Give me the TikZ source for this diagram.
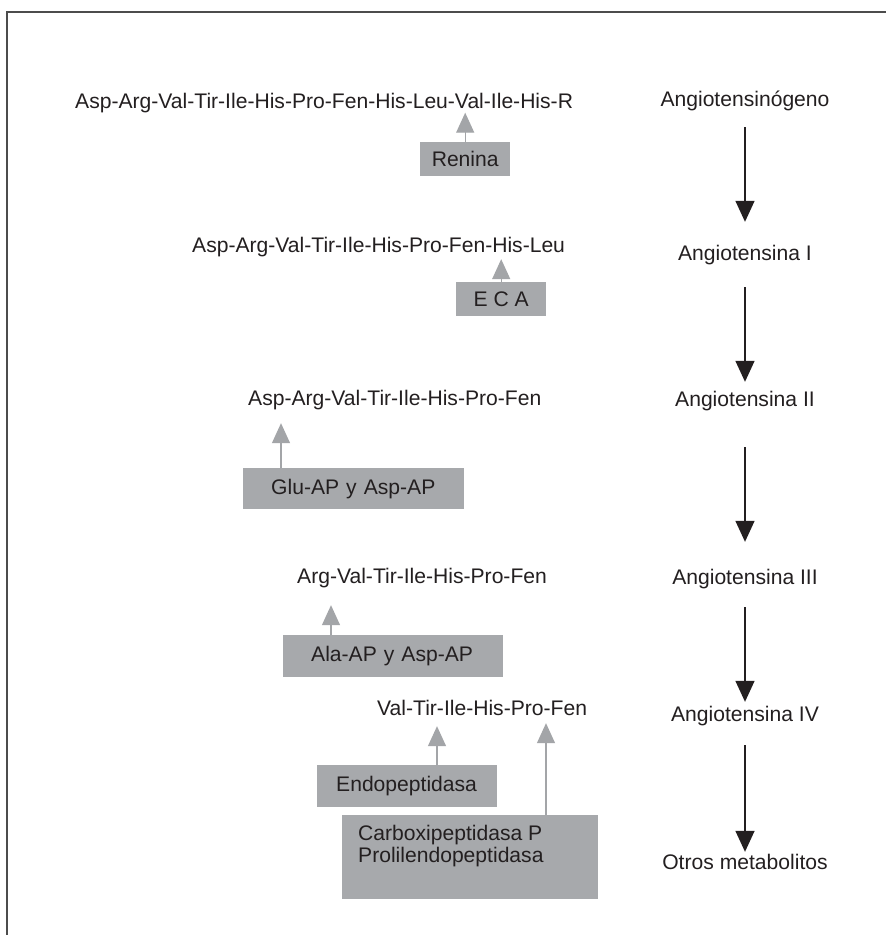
\documentclass[tikz,border=0pt]{standalone}
\usepackage{fontspec}
\setmainfont{Liberation Sans}
\usetikzlibrary{arrows.meta}
\definecolor{boxgray}{HTML}{A7A9AC}
\definecolor{arrgray}{HTML}{A3A5A8}
\definecolor{ink}{HTML}{231F20}
\begin{document}
\begin{tikzpicture}[x=1pt,y=-1pt,
  every node/.style={font=\fontsize{21.1}{22}\selectfont, text=ink, inner sep=0pt},
  seq/.style={anchor=base west, text height=15.5pt, text depth=4.5pt},
  stage/.style={anchor=base, text height=15.5pt, text depth=4.5pt},
  enz/.style={fill=boxgray, anchor=north west},
  garr/.style={draw=arrgray, line width=1.3pt, -{Triangle[length=20pt,width=18pt]}},
  barr/.style={draw=ink, line width=1.5pt, -{Triangle[length=21pt,width=19pt]}},
  frame/.style={draw=black!70, line width=1.8pt}]
\useasboundingbox (0,0) rectangle (886,935);
\fill[white] (0,0) rectangle (886,935);
\draw[frame] (7,935) -- (7,12) -- (886,12);

% sequences
\node[seq] (s1) at (75,108) {Asp-Arg-Val-Tir-Ile-His-Pro-Fen-His-Leu-Val-Ile-His-R};
\node[seq] (s2) at (192,252) {Asp-Arg-Val-Tir-Ile-His-Pro-Fen-His-Leu};
\node[seq] (s3) at (248,405) {Asp-Arg-Val-Tir-Ile-His-Pro-Fen};
\node[seq] (s4) at (297,583) {Arg-Val-Tir-Ile-His-Pro-Fen};
\node[seq] (s5) at (377,715) {Val-Tir-Ile-His-Pro-Fen};

% stages
\node[stage] (a0) at (745,106) {Angiotensinógeno};
\node[stage] (a1) at (745,260) {Angiotensina I};
\node[stage] (a2) at (745,406) {Angiotensina II};
\node[stage] (a3) at (745,584) {Angiotensina III};
\node[stage] (a4) at (745,721) {Angiotensina IV};
\node[stage] (a5) at (745,869) {Otros metabolitos};

% enzymes
\node[enz, minimum width=90pt, minimum height=34pt] (renina) at (420,142) {Renina};
\node[enz, minimum width=90pt, minimum height=34pt] (eca) at (456,282) {E C A};
\node[enz, text width=165pt, align=left, inner xsep=28pt, minimum height=41pt] (glu) at (243,468) {Glu-AP y Asp-AP};
\node[enz, text width=164pt, align=left, inner xsep=28pt, minimum height=42pt] (ala) at (283,635) {Ala-AP y Asp-AP};
\node[enz, text width=142pt, align=left, inner xsep=19pt, minimum height=42pt] (endo) at (317,765) {Endopeptidasa};
\node[enz] (carb) at (342,815) {\parbox[t][84pt][t]{256pt}{\leftskip=16pt\relax\rule{0pt}{25pt}Carboxipeptidasa P\\Prolilendopeptidasa}};

% enzyme arrows
\draw[garr] (renina.north) -- (renina.north |- s1.south);
\draw[garr, shorten >=2.5pt] (eca.north) -- (eca.north |- s2.south);
\coordinate (gA) at ([xshift=38pt]glu.north west);
\draw[garr, shorten >=13.5pt] (gA) -- (gA |- s3.south);
\coordinate (lA) at ([xshift=48pt]ala.north west);
\draw[garr, shorten >=17.5pt] (lA) -- (lA |- s4.south);
\coordinate (eA) at ([xshift=120pt]endo.north west);
\draw[garr, shorten >=6.5pt] (eA) -- (eA |- s5.south);
\coordinate (cA) at ([xshift=204pt]carb.north west);
\draw[garr, shorten >=3.5pt] (cA) -- (cA |- s5.south);

% stage arrows
\draw[barr, shorten <=16.5pt, shorten >=22.5pt] (a0.south) -- (a1.north);
\draw[barr, shorten <=22.5pt, shorten >=8.5pt] (a1.south) -- (a2.north);
\draw[barr, shorten <=36.5pt, shorten >=26.5pt] (a2.south) -- (a3.north);
\draw[barr, shorten <=18.5pt, shorten >=3.5pt] (a3.south) -- (a4.north);
\draw[barr, shorten <=19.5pt, shorten >=1.5pt] (a4.south) -- (a5.north);
\end{tikzpicture}
\end{document}
